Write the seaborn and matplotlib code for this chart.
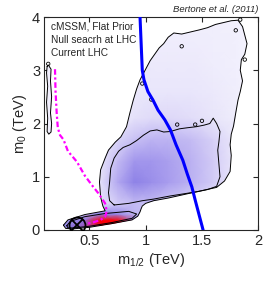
import numpy as np
import seaborn as sns
import matplotlib
matplotlib.use("Agg")
import matplotlib.pyplot as plt
from matplotlib.path import Path
from matplotlib.patches import PathPatch
from matplotlib.colors import LinearSegmentedColormap

# posterior density (rows = m0, columns = m1/2)
dens_m = [0.1, 0.3, 0.45, 0.6, 0.75, 0.9, 1.05, 1.2, 1.4, 1.6, 1.8, 2.0]
dens_m0 = [0.0, 0.08, 0.18, 0.3, 0.5, 0.9, 1.3, 1.7, 2.1, 2.6, 3.1, 3.6, 4.0]
density = [
    [0.05, 0.55, 0.60, 0.60, 0.45, 0.25, 0.10, 0.05, 0.02, 0.0, 0.0, 0.0],
    [0.05, 0.60, 0.72, 0.90, 0.88, 0.50, 0.30, 0.10, 0.02, 0.0, 0.0, 0.0],
    [0.05, 0.45, 0.65, 0.98, 1.00, 0.60, 0.35, 0.10, 0.02, 0.0, 0.0, 0.0],
    [0.05, 0.15, 0.35, 0.60, 0.55, 0.35, 0.25, 0.12, 0.08, 0.05, 0.0, 0.0],
    [0.05, 0.05, 0.10, 0.15, 0.25, 0.32, 0.32, 0.26, 0.20, 0.14, 0.06, 0.0],
    [0.05, 0.05, 0.05, 0.15, 0.40, 0.58, 0.52, 0.45, 0.36, 0.25, 0.10, 0.0],
    [0.05, 0.05, 0.05, 0.12, 0.32, 0.48, 0.48, 0.44, 0.36, 0.25, 0.10, 0.0],
    [0.05, 0.05, 0.05, 0.06, 0.20, 0.30, 0.35, 0.35, 0.32, 0.22, 0.10, 0.0],
    [0.05, 0.05, 0.05, 0.05, 0.08, 0.14, 0.17, 0.18, 0.16, 0.12, 0.07, 0.0],
    [0.05, 0.05, 0.05, 0.05, 0.05, 0.09, 0.11, 0.11, 0.11, 0.09, 0.06, 0.0],
    [0.05, 0.05, 0.05, 0.05, 0.05, 0.07, 0.09, 0.09, 0.09, 0.07, 0.05, 0.0],
    [0.05, 0.05, 0.05, 0.05, 0.05, 0.05, 0.07, 0.07, 0.07, 0.06, 0.05, 0.0],
    [0.05, 0.05, 0.05, 0.05, 0.05, 0.05, 0.05, 0.05, 0.05, 0.05, 0.05, 0.0],
]

# outer credible contour (big region + neck + strip)
outer_m = [0.27, 0.31, 0.46, 0.64, 0.62, 0.60, 0.59, 0.60, 0.64, 0.67, 0.73, 0.78,
           0.83, 0.86, 0.89, 0.92, 0.95, 1.01, 1.04, 1.08, 1.12, 1.16, 1.20, 1.25,
           1.32, 1.40, 1.48, 1.55, 1.62, 1.70, 1.76, 1.82, 1.86, 1.90, 1.88, 1.85,
           1.84, 1.86, 1.84, 1.82, 1.80, 1.78, 1.76, 1.75, 1.76, 1.75, 1.70, 1.63,
           1.50, 1.37, 1.20, 1.07, 1.00, 0.97, 0.96, 0.95, 0.93, 0.88, 0.70, 0.50,
           0.35, 0.29]
outer_m0 = [0.09, 0.19, 0.29, 0.36, 0.45, 0.62, 0.90, 1.13, 1.35, 1.50, 1.65, 1.75,
            1.94, 2.20, 2.44, 2.65, 2.82, 3.06, 3.18, 3.30, 3.42, 3.50, 3.62, 3.70,
            3.68, 3.72, 3.76, 3.80, 3.86, 3.90, 3.93, 3.94, 3.82, 3.50, 3.30, 3.20,
            3.00, 2.80, 2.60, 2.44, 2.20, 1.95, 1.80, 1.60, 1.40, 1.10, 0.92, 0.80,
            0.74, 0.68, 0.60, 0.55, 0.50, 0.45, 0.40, 0.34, 0.26, 0.19, 0.12, 0.05,
            0.02, 0.03]

# inner credible contour, upper blob
inner_m = [0.72, 0.68, 0.67, 0.68, 0.69, 0.72, 0.76, 0.80, 0.86, 0.92, 0.98, 1.04,
           1.10, 1.16, 1.22, 1.30, 1.37, 1.45, 1.52, 1.57, 1.60, 1.63, 1.66, 1.65,
           1.64, 1.65, 1.66, 1.63, 1.55, 1.46, 1.34, 1.22, 1.07, 0.97, 0.85]
inner_m0 = [0.47, 0.55, 0.70, 0.90, 1.16, 1.35, 1.48, 1.55, 1.60, 1.68, 1.78, 1.86,
            1.88, 1.84, 1.85, 1.90, 1.92, 1.94, 1.97, 2.00, 2.10, 2.00, 1.85, 1.65,
            1.50, 1.25, 1.00, 0.82, 0.76, 0.72, 0.68, 0.64, 0.58, 0.55, 0.50]

# inner credible contour, low-m0 strip
strip_m = [0.30, 0.33, 0.46, 0.64, 0.85, 0.92, 0.88, 0.70, 0.50, 0.36, 0.31]
strip_m0 = [0.08, 0.16, 0.25, 0.31, 0.35, 0.30, 0.22, 0.14, 0.07, 0.04, 0.04]

# thin region along the left edge
left_m = [0.125, 0.135, 0.160, 0.155, 0.165, 0.155, 0.165, 0.160, 0.140, 0.125,
          0.130, 0.120, 0.130, 0.120]
left_m0 = [3.07, 3.10, 3.02, 2.80, 2.50, 2.20, 2.00, 1.84, 1.80, 1.85, 2.10, 2.40,
           2.70, 2.95]

# small contour islands
island_m = [1.84, 1.80, 1.88, 1.05, 0.97, 1.28, 1.50, 1.44, 1.32, 0.135]
island_m0 = [3.95, 3.75, 3.20, 2.45, 2.75, 1.98, 2.05, 1.98, 3.45, 3.12]

# current LHC exclusion (magenta) and null-search reach (blue)
lhc_m = [0.195, 0.20, 0.21, 0.22, 0.24, 0.27, 0.31, 0.39, 0.46, 0.52, 0.58, 0.64,
         0.655, 0.64, 0.60, 0.53, 0.46]
lhc_m0 = [3.02, 2.60, 2.20, 1.92, 1.78, 1.70, 1.48, 1.28, 1.02, 0.85, 0.69, 0.50,
          0.35, 0.25, 0.19, 0.14, 0.11]
null_m = [0.95, 0.97, 0.985, 1.02, 1.065, 1.11, 1.17, 1.22, 1.27, 1.33, 1.37, 1.41,
          1.44, 1.475, 1.51]
null_m0 = [4.0, 3.0, 2.82, 2.60, 2.44, 2.25, 2.07, 1.88, 1.60, 1.31, 1.05, 0.81,
           0.56, 0.28, 0.0]

best_fit = (0.39, 0.10)

sns.set_style("ticks")
plt.rcParams["font.family"] = ["Liberation Sans", "DejaVu Sans"]
plt.rcParams["mathtext.fontset"] = "custom"
plt.rcParams["mathtext.rm"] = "Liberation Sans"
plt.rcParams["mathtext.it"] = "Liberation Sans:italic"

fig = plt.figure(figsize=(2.66, 2.82), dpi=100)
ax = fig.add_axes([0.1665, 0.1844, 0.8045, 0.7553])

cmap = LinearSegmentedColormap.from_list(
    "post",
    [(0.0, "#f7f6fe"), (0.1, "#ebe8fb"), (0.25, "#d2cbf6"), (0.45, "#a89cee"),
     (0.6, "#8a7ee6"), (0.7, "#8a66d8"), (0.8, "#c82060"), (0.9, "#f00010"),
     (1.0, "#ff0000")])

X, Y = np.meshgrid(dens_m, dens_m0)
mesh = ax.pcolormesh(X, Y, np.array(density), cmap=cmap, vmin=0, vmax=1,
                     shading="gouraud", zorder=1)


def closed(xs, ys):
    v = list(zip(xs, ys))
    return Path(v + [v[0]], closed=True)


clip = PathPatch(Path.make_compound_path(closed(outer_m, outer_m0), closed(left_m, left_m0)),
                 transform=ax.transData, fc="none", ec="none")
ax.add_patch(clip)
mesh.set_clip_path(clip)

for xs, ys in [(outer_m, outer_m0), (inner_m, inner_m0), (strip_m, strip_m0), (left_m, left_m0)]:
    ax.plot(list(xs) + [xs[0]], list(ys) + [ys[0]], color="black", lw=0.7, zorder=3)

ax.scatter(island_m, island_m0, s=6, facecolors="none", edgecolors="black",
           linewidths=0.6, zorder=3)

sns.lineplot(x=lhc_m, y=lhc_m0, sort=False, estimator=None, color="#ff00ff",
             lw=1.6, linestyle=(0, (2.5, 1.2, 1, 1.2)), ax=ax, zorder=4)
sns.lineplot(x=null_m, y=null_m0, sort=False, estimator=None, color="#0000ff",
             lw=2.2, ax=ax, zorder=4)

ax.plot(*best_fit, "o", mfc="none", mec="black", ms=11.5, mew=1.3, zorder=5)
ax.plot(*best_fit, "x", color="black", ms=8, mew=1.3, zorder=5)

ax.set_xlim(0.1, 2.0)
ax.set_ylim(0, 4)
ax.set_xticks([0.5, 1, 1.5, 2])
ax.set_xticklabels(["0.5", "1", "1.5", "2"])
ax.set_yticks([0, 1, 2, 3, 4])
ax.tick_params(direction="in", top=True, right=True, length=3.5, width=0.8,
               labelsize=10.5, pad=3)
for s in ax.spines.values():
    s.set_linewidth(0.8)
    s.set_visible(True)

ax.set_xlabel("m$_{1/2}$ (TeV)", fontsize=10.5, labelpad=2)
ax.set_ylabel("m$_0$ (TeV)", fontsize=10.5, labelpad=2)

ax.text(0.03, 0.978, "cMSSM, Flat Prior\nNull seacrh at LHC\nCurrent LHC",
        transform=ax.transAxes, fontsize=7.3, va="top", ha="left", linespacing=1.4)
fig.text(0.971, 0.965, "Bertone et al. (2011)", fontsize=6.8, style="italic",
         ha="right", va="center")

fig.savefig("out.png", dpi=100)
